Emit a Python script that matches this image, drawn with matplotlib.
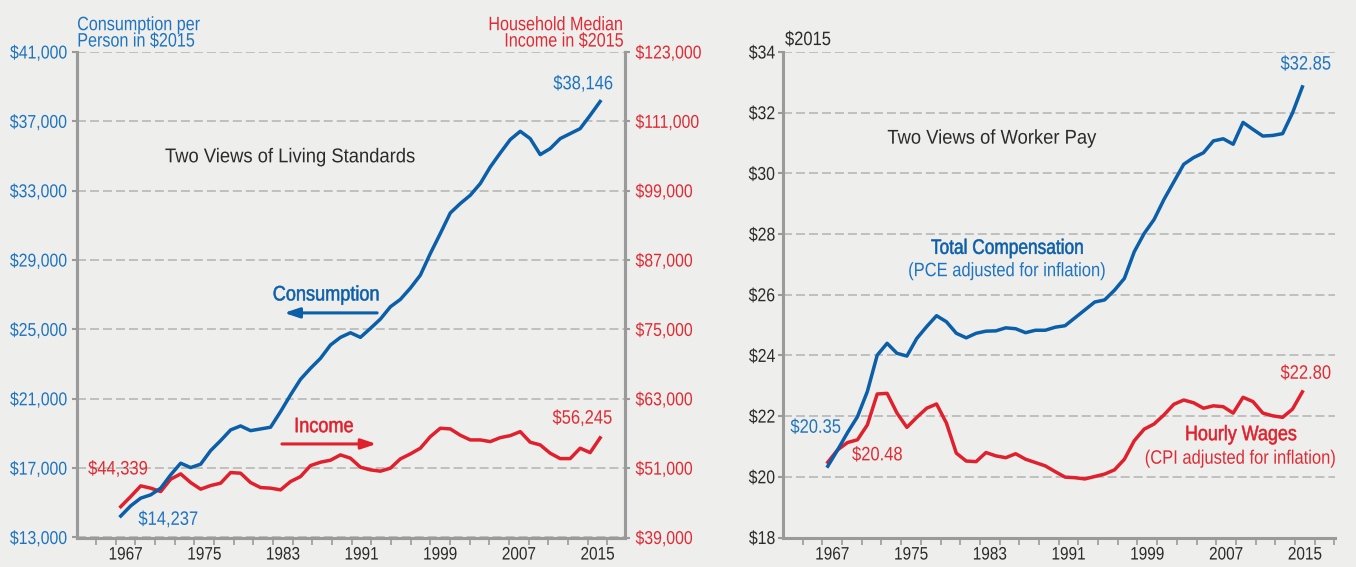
import numpy as np
import matplotlib
matplotlib.use('Agg')
import matplotlib.pyplot as plt
from matplotlib.ticker import FuncFormatter
from matplotlib.patheffects import AbstractPathEffect
from matplotlib.transforms import Affine2D

plt.rcParams['font.family'] = ['Liberation Sans', 'DejaVu Sans']

years = list(range(1967, 2016))

# consumption per person, $2015 (left chart, left axis)
consumption = [14237, 14826, 15270, 15460, 15845, 16612, 17285, 17032, 17228, 18011,
               18587, 19204, 19434, 19163, 19261, 19359, 20258, 21220, 22124, 22757,
               23333, 24100, 24543, 24808, 24543, 25061, 25597, 26306, 26732, 27383,
               28131, 29381, 30533, 31720, 32261, 32740, 33413, 34370, 35176, 35948,
               36426, 36005, 35084, 35429, 36005, 36293, 36581, 37347, 38146]

# household median income, $2015 (left chart, right axis)
income = [44339, 46085, 47934, 47536, 46949, 49092, 50007, 48504, 47364, 47986,
          48400, 50232, 50128, 48504, 47640, 47536, 47243, 48677, 49541, 51442,
          52029, 52375, 53291, 52720, 51165, 50699, 50474, 50992, 52599, 53463,
          54448, 56453, 57904, 57783, 56695, 55883, 55883, 55589, 56280, 56626,
          57317, 55485, 55019, 53584, 52651, 52651, 54448, 53688, 56245]

# total compensation per hour, PCE adjusted (right chart)
compensation = [20.35, 20.89, 21.46, 21.98, 22.81, 24.01, 24.40, 24.07, 23.98, 24.56,
                24.95, 25.31, 25.11, 24.73, 24.58, 24.73, 24.80, 24.81, 24.91, 24.88,
                24.75, 24.83, 24.83, 24.93, 24.98, 25.24, 25.50, 25.76, 25.83, 26.15,
                26.54, 27.42, 28.02, 28.48, 29.14, 29.72, 30.30, 30.52, 30.68, 31.07,
                31.14, 30.96, 31.68, 31.45, 31.23, 31.25, 31.31, 31.99, 32.85]

# hourly wages, CPI adjusted (right chart)
wages = [20.48, 20.89, 21.13, 21.22, 21.71, 22.73, 22.75, 22.10, 21.63, 21.96,
         22.26, 22.40, 21.77, 20.78, 20.52, 20.50, 20.80, 20.69, 20.63, 20.76,
         20.58, 20.47, 20.36, 20.17, 19.99, 19.97, 19.93, 20.01, 20.09, 20.23,
         20.58, 21.19, 21.57, 21.74, 22.04, 22.39, 22.53, 22.44, 22.26, 22.34,
         22.31, 22.10, 22.62, 22.48, 22.10, 22.01, 21.96, 22.23, 22.80]

year_labels = ['1967', '1975', '1983', '1991', '1999', '2007', '2015']
cons_ticks = list(range(13000, 41001, 4000))
inc_ticks = list(range(39000, 123001, 12000))
pay_ticks = list(range(18, 35, 2))

BG = '#eeeeec'
BLUE = '#0b5ea8'
BLUE_TXT = '#1f74bf'
RED = '#e0202c'
RED_TXT = '#e02b35'
GRID = '#b2b2b2'
SPINE = '#9a9a9a'
DARK = '#2b2b2b'


class Squeeze(AbstractPathEffect):
    # the original uses a condensed face, so narrow the glyphs around their anchor
    def __init__(self, sx, anchor, stroke=0.0):
        super().__init__()
        self.sx = sx
        self.anchor = anchor
        self.stroke = stroke

    def draw_path(self, renderer, gc, tpath, affine, rgbFace=None):
        ext = tpath.get_extents(affine)
        if self.anchor == 'left':
            x0 = ext.x0
        elif self.anchor == 'right':
            x0 = ext.x1
        else:
            x0 = (ext.x0 + ext.x1) / 2
        tr = affine + Affine2D().translate(-x0, 0).scale(self.sx, 1).translate(x0, 0)
        gc0 = renderer.new_gc()
        gc0.copy_properties(gc)
        if self.stroke:
            # a thin outline gives the medium weight of the original labels
            gc0.set_linewidth(self.stroke)
            gc0.set_foreground(rgbFace)
            gc0.set_joinstyle('round')
        renderer.draw_path(gc0, tpath, tr, rgbFace)
        gc0.restore()


def squeeze(t, sx=0.85, stroke=0.0):
    t.set_path_effects([Squeeze(sx, t.get_horizontalalignment(), stroke)])
    return t


def style_x(ax, x0, x1, t0, step):
    ax.set_xlim(x0, x1)
    k = np.arange(-1, 27)
    ticks = t0 + step * k
    ax.set_xticks(ticks[ticks < x1 + 0.1], minor=True)
    ax.set_xticks(t0 + step * (np.arange(7) * 4 + 0.5), labels=year_labels)
    ax.tick_params(axis='x', which='major', length=0, pad=6.5, labelsize=13, labelcolor=DARK)
    ax.tick_params(axis='x', which='minor', length=4.8, width=1.2, color=SPINE)
    ax.spines['top'].set_visible(False)
    for s in ['left', 'bottom', 'right']:
        ax.spines[s].set_color(SPINE)
        ax.spines[s].set_linewidth(2.2)
    ax.set_facecolor(BG)
    ax.yaxis.grid(True, linestyle=(0, (5.9, 2.6)), color=GRID, linewidth=1.1)
    ax.set_axisbelow(True)


def main():
    fig = plt.figure(figsize=(13.56, 5.67), dpi=100, facecolor=BG)
    W, H = 1356, 567
    top, bottom = 52, 537.5
    money = FuncFormatter(lambda v, p: '${:,.0f}'.format(v))

    # ---- left: living standards
    ax1 = fig.add_axes([77 / W, 1 - bottom / H, (624.5 - 77) / W, (bottom - top) / H])
    style_x(ax1, 1962.62, 2017.44, 1966.5, 1.969)
    ax1.set_ylim(13000, 41000)
    ax1.set_yticks(cons_ticks)
    ax1.yaxis.set_major_formatter(money)
    ax1.tick_params(axis='y', length=3.4, width=1.5, color=SPINE, labelsize=13.4,
                    labelcolor=BLUE_TXT, pad=3.5)

    ax1r = ax1.twinx()
    ax1r.set_ylim(39000, 123000)
    ax1r.set_yticks(inc_ticks)
    ax1r.yaxis.set_major_formatter(money)
    ax1r.tick_params(axis='y', length=3.4, width=1.5, color=SPINE, labelsize=13.4,
                     labelcolor=RED_TXT, pad=4.5)
    ax1r.spines['top'].set_visible(False)
    for s in ['left', 'bottom', 'right']:
        ax1r.spines[s].set_color(SPINE)
        ax1r.spines[s].set_linewidth(2.2)

    ax1r.plot(years, income, color=RED, lw=2.5)
    ax1r.plot(years, [v * 3 for v in consumption], color=BLUE, lw=2.5)

    squeeze(ax1.text(0.0, 1.003, 'Consumption per\nPerson in $2015', transform=ax1.transAxes,
                     ha='left', va='bottom', fontsize=14, color=BLUE_TXT, linespacing=0.95), 0.83)
    squeeze(ax1.text(1.0, 1.003, 'Household Median\nIncome in $2015', transform=ax1.transAxes,
                     ha='right', va='bottom', fontsize=14, color=RED_TXT, linespacing=0.95), 0.83)
    squeeze(ax1.text(1983.97, 34955, 'Two Views of Living Standards', ha='center', va='center',
                     fontsize=14.4, color=DARK), 0.92)
    squeeze(ax1.text(2013.33, 39110, '$38,146', ha='center', va='center', fontsize=14, color=BLUE_TXT))
    squeeze(ax1.text(1971.79, 13990, '$14,237', ha='center', va='center', fontsize=14, color=BLUE_TXT))
    squeeze(ax1.text(1966.75, 16895, '$44,339', ha='center', va='center', fontsize=14, color=RED_TXT))
    squeeze(ax1.text(2013.25, 19826, '$56,245', ha='center', va='center', fontsize=14, color=RED_TXT))
    squeeze(ax1.text(1987.6, 26990, 'Consumption', ha='center', va='center', fontsize=15,
                     color=BLUE), 0.87, 0.4)
    ax1.annotate('', xy=(1983.36, 25953), xytext=(1992.67, 25953),
                 arrowprops=dict(arrowstyle='-|>,head_length=0.9,head_width=0.3',
                                 color=BLUE, lw=2.2, shrinkA=0, shrinkB=0))
    squeeze(ax1.text(1987.35, 19393, 'Income', ha='center', va='center', fontsize=15,
                     color=RED), 0.87, 0.4)
    ax1.annotate('', xy=(1992.61, 18395), xytext=(1983.14, 18395),
                 arrowprops=dict(arrowstyle='-|>,head_length=0.9,head_width=0.3',
                                 color=RED, lw=2.2, shrinkA=0, shrinkB=0))

    # ---- right: worker pay
    ax2 = fig.add_axes([783.3 / W, 1 - bottom / H, (1335 - 783.3) / W, (bottom - top) / H])
    style_x(ax2, 1962.5, 2018.3, 1966.45, 1.992)
    ax2.spines['right'].set_visible(False)
    ax2.set_ylim(18, 34)
    ax2.set_yticks(pay_ticks)
    ax2.yaxis.set_major_formatter(FuncFormatter(lambda v, p: '${:.0f}'.format(v)))
    ax2.tick_params(axis='y', length=3.4, width=1.5, color=SPINE, labelsize=13.4,
                    labelcolor=DARK, pad=2.5)

    ax2.plot(years, wages, color=RED, lw=2.5)
    ax2.plot(years, compensation, color=BLUE, lw=2.5)

    squeeze(ax2.text(0.003, 1.006, '$2015', transform=ax2.transAxes, ha='left', va='bottom',
                     fontsize=14, color=DARK))
    squeeze(ax2.text(1983.6, 31.16, 'Two Views of Worker Pay', ha='center', va='center',
                     fontsize=14.4, color=DARK), 0.92)
    squeeze(ax2.text(1985.2, 27.53, 'Total Compensation', ha='center', va='center', fontsize=15,
                     color=BLUE), 0.83, 0.4)
    squeeze(ax2.text(1985.2, 26.76, '(PCE adjusted for inflation)', ha='center', va='center',
                     fontsize=14, color=BLUE_TXT))
    squeeze(ax2.text(2015.37, 33.57, '$32.85', ha='center', va='center', fontsize=14, color=BLUE_TXT))
    squeeze(ax2.text(1965.8, 21.60, '$20.35', ha='center', va='center', fontsize=14, color=BLUE_TXT))
    squeeze(ax2.text(1972.04, 20.69, '$20.48', ha='center', va='center', fontsize=14, color=RED_TXT))
    squeeze(ax2.text(2015.37, 23.38, '$22.80', ha='center', va='center', fontsize=14, color=RED_TXT))
    squeeze(ax2.text(2008.8, 21.39, 'Hourly Wages', ha='center', va='center', fontsize=15,
                     color=RED), 0.86, 0.4)
    squeeze(ax2.text(2008.8, 20.58, '(CPI adjusted for inflation)', ha='center', va='center',
                     fontsize=14, color=RED_TXT))

    for ax in [ax1, ax1r, ax2]:
        for t in ax.get_xticklabels() + ax.get_yticklabels():
            squeeze(t)

    fig.savefig('out.png', dpi=100, facecolor=BG)


if __name__ == "__main__":
    main()
